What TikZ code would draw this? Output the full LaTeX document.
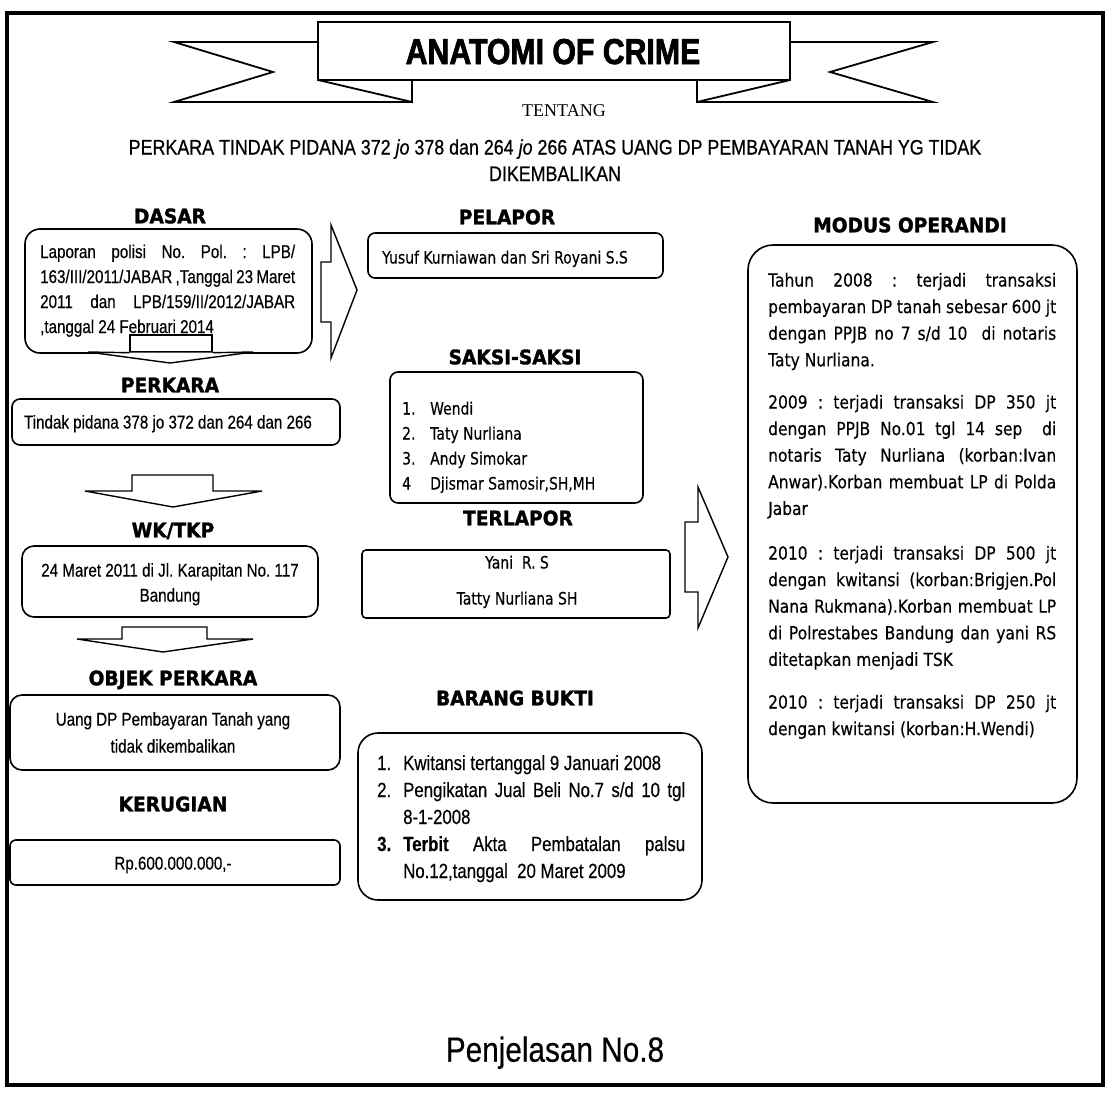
\documentclass[tikz,border=0pt]{standalone}
\usepackage{fontspec}
\setmainfont{Liberation Sans}
\newfontfamily\nar[FakeStretch=0.82,FakeBold=0.4]{Liberation Sans}
\newfontfamily\nart[FakeStretch=0.85,FakeBold=0.6]{Liberation Sans}
\newfontfamily\tah[FakeStretch=0.82,FakeBold=0.3]{DejaVu Sans}
\newfontfamily\tahm[FakeStretch=0.86,FakeBold=0.3]{DejaVu Sans}
\newfontfamily\hd[FakeStretch=0.93,FakeBold=1.6]{DejaVu Sans Bold}
\newfontfamily\ban[FakeStretch=0.84,FakeBold=2]{Liberation Sans Bold}
\newfontfamily\ser{Liberation Serif}
\newfontfamily\pen[FakeStretch=0.85,FakeBold=0.4]{Liberation Sans}
\usetikzlibrary{fit}
\frenchspacing
\newcommand\jl[1]{\hbox to \hsize{#1}}
\newcommand\nl[1]{\hbox{#1}}
\tikzset{
  box/.style={draw, line width=1.6pt, inner sep=0pt, fill=white},
  hdg/.style={inner sep=0pt, anchor=base, font=\hd\fontsize{20}{24}\selectfont},
  txt/.style={inner sep=0pt, anchor=base},
  para/.style={inner sep=0pt, anchor=base west},
  blk/.style={draw, line width=1.4pt, fill=white, line join=miter},
  rib/.style={draw, line width=1.8pt, line join=miter},
}
\begin{document}
\begin{tikzpicture}[x=1pt,y=-1pt]
\useasboundingbox (0,0) rectangle (1112,1093);
\fill[white] (0,0) rectangle (1112,1093);
% outer frame
\draw[line width=3.5pt] (7,13) rectangle (1103,1085);

% banner
\draw[rib] (318,42) -- (174,42) -- (273,72) -- (174,102) -- (412,102);
\draw[rib] (318,80) -- (412,102) -- (412,80);
\draw[rib] (790,42) -- (933,42) -- (830,72) -- (933,102) -- (697,102);
\draw[rib] (790,80) -- (697,102) -- (697,80);
\node[box, line width=1.8pt, fit={(318,22) (790,80)}] (banner) {};
\node[txt, font=\ban\fontsize{36}{40}\selectfont] (anatomi) at (553,64) {ANATOMI OF CRIME};
\node[txt, font=\ser\fontsize{18}{20}\selectfont] (tentang) at (564,116) {TENTANG};
\node[txt, font=\nart\fontsize{21}{25}\selectfont] (title1) at (555,154.5) {PERKARA TINDAK PIDANA 372 \textit{jo} 378 dan 264 \textit{jo} 266 ATAS UANG DP PEMBAYARAN TANAH YG TIDAK};
\node[txt, font=\nart\fontsize{21}{25}\selectfont] (title2) at (555,181) {DIKEMBALIKAN};

% ---------------- left column
\node[hdg] (hdasar) at (170,223.3) {DASAR};
\node[box, rounded corners=15pt, fit={(25,229) (312,353)}] (dasar) {};
\node[para] (dasart) at (40,258) {\parbox[t]{255pt}{\nar\fontsize{18.5}{25}\selectfont
  \jl{Laporan polisi No. Pol. : LPB/}
  \jl{163/III/2011/JABAR ,Tanggal 23 Maret}
  \jl{2011 dan LPB/159/II/2012/JABAR}
  \nl{,tanggal 24 Februari 2014}}};
\node[blk, inner sep=0pt, fit={(130,335) (212,352)}] (a1shaft) {};
\draw[blk] (a1shaft.south west) -- (88,352) -- (170,363) -- (253,352) -- (a1shaft.south east);

\node[hdg] (hperkara) at (170,392.3) {PERKARA};
\node[box, rounded corners=8pt, fit={(12,399) (340,445)}] (perkara) {};
\node[txt, font=\nar\fontsize{18.5}{22}\selectfont] (perkarat) at (168,428.5) {Tindak pidana 378 jo 372 dan 264 dan 266};

\draw[blk] (132,475) -- (213,475) -- (213,491) -- (262,491) -- (173,507) -- (85,491) -- (132,491) -- cycle;

\node[hdg] (hwk) at (173,537.3) {WK/TKP};
\node[box, rounded corners=12pt, fit={(22,546) (318,617)}] (wk) {};
\node[txt, font=\nar\fontsize{18.5}{22}\selectfont] (wkt1) at (170,576.6) {24 Maret 2011 di Jl. Karapitan No. 117};
\node[txt, font=\nar\fontsize{18.5}{22}\selectfont] (wkt2) at (170,601.6) {Bandung};

\draw[blk] (122,627) -- (207,627) -- (207,639) -- (253,639) -- (163,652) -- (77,639) -- (122,639) -- cycle;

\node[hdg] (hobjek) at (173,685.3) {OBJEK PERKARA};
\node[box, rounded corners=12pt, fit={(10,695) (340,770)}] (objek) {};
\node[txt, font=\nar\fontsize{18.5}{22}\selectfont] (objekt1) at (173,725.6) {Uang DP Pembayaran Tanah yang};
\node[txt, font=\nar\fontsize{18.5}{22}\selectfont] (objekt2) at (173,752.6) {tidak dikembalikan};

\node[hdg] (hrugi) at (173,811.3) {KERUGIAN};
\node[box, rounded corners=6pt, fit={(10,840) (340,885)}] (rugi) {};
\node[txt, font=\nar\fontsize{18.5}{22}\selectfont] (rugit) at (173,869.6) {Rp.600.000.000,-};

% ---------------- arrow dasar -> middle
\draw[blk] (321,262) -- (331,262) -- (331,225) -- (357,290) -- (331,358) -- (331,322) -- (321,322) -- cycle;

% ---------------- middle column
\node[hdg] (hpelapor) at (507,224.3) {PELAPOR};
\node[box, rounded corners=7pt, fit={(368,233) (663,278)}] (pelapor) {};
\node[para, font=\tah\fontsize{17}{20}\selectfont] (pelaport) at (382,263.5) {Yusuf Kurniawan dan Sri Royani S.S};

\node[hdg] (hsaksi) at (515,364.3) {SAKSI-SAKSI};
\node[box, rounded corners=8pt, fit={(390,372) (643,503)}] (saksi) {};
\node[para] (saksit) at (402,414.5) {\parbox[t]{230pt}{\tah\fontsize{17}{25}\selectfont
  \nl{\hbox to 28pt{1.\hfil}Wendi}
  \nl{\hbox to 28pt{2.\hfil}Taty Nurliana}
  \nl{\hbox to 28pt{3.\hfil}Andy Simokar}
  \nl{\hbox to 28pt{4\hfil}Djismar Samosir,SH,MH}}};

\node[hdg] (hterlapor) at (518,525.3) {TERLAPOR};
\node[box, rounded corners=4pt, fit={(362,550) (670,618)}] (terlapor) {};
\node[txt, font=\tah\fontsize{17}{20}\selectfont] (terlaport1) at (517,568.5) {Yani\ \ R. S};
\node[txt, font=\tah\fontsize{17}{20}\selectfont] (terlaport2) at (517,604.5) {Tatty Nurliana SH};

\node[hdg] (hbarang) at (515,705.3) {BARANG BUKTI};
\node[box, rounded corners=20pt, fit={(358,733) (702,900)}] (barang) {};
\node[para] (barangt) at (377,770) {\parbox[t]{308pt}{\nar\fontsize{20.5}{27}\selectfont
  \nl{\hbox to 26pt{1.\hfil}Kwitansi tertanggal 9 Januari 2008}
  \jl{\hbox to 26pt{2.\hfil}Pengikatan Jual Beli No.7 s/d 10 tgl}
  \nl{\hskip26pt 8-1-2008}
  \jl{\hbox to 26pt{\bfseries 3.\hfil}\textbf{Terbit} Akta Pembatalan palsu}
  \nl{\hskip26pt No.12,tanggal\ \ 20 Maret 2009}}};

% ---------------- arrow middle -> modus
\draw[blk] (685,522) -- (698,522) -- (698,487) -- (728,557) -- (698,628) -- (698,592) -- (685,592) -- cycle;

% ---------------- right column
\node[hdg] (hmodus) at (910,232.3) {MODUS OPERANDI};
\node[box, rounded corners=25pt, fit={(748,245) (1077,803)}] (modus) {};
\node[para] (modus1) at (768,286.5) {\parbox[t]{288pt}{\tahm\fontsize{18}{26.6}\selectfont
  \jl{Tahun 2008 : terjadi transaksi}
  \jl{pembayaran DP tanah sebesar 600 jt}
  \jl{dengan PPJB no 7 s/d 10\ \ di notaris}
  \nl{Taty Nurliana.}}};
\node[para] (modus2) at (768,408.5) {\parbox[t]{288pt}{\tahm\fontsize{18}{26.6}\selectfont
  \jl{2009 : terjadi transaksi DP 350 jt}
  \jl{dengan PPJB No.01 tgl 14 sep\ \ di}
  \jl{notaris Taty Nurliana (korban:Ivan}
  \jl{Anwar).Korban membuat LP di Polda}
  \nl{Jabar}}};
\node[para] (modus3) at (768,559.5) {\parbox[t]{288pt}{\tahm\fontsize{18}{26.6}\selectfont
  \jl{2010 : terjadi transaksi DP 500 jt}
  \jl{dengan kwitansi (korban:Brigjen.Pol}
  \jl{Nana Rukmana).Korban membuat LP}
  \jl{di Polrestabes Bandung dan yani RS}
  \nl{ditetapkan menjadi TSK}}};
\node[para] (modus4) at (768,708.5) {\parbox[t]{288pt}{\tahm\fontsize{18}{26.6}\selectfont
  \jl{2010 : terjadi transaksi DP 250 jt}
  \nl{dengan kwitansi (korban:H.Wendi)}}};

% footer
\node[txt, font=\pen\fontsize{35}{40}\selectfont] (penjelasan) at (555,1061.7) {Penjelasan No.8};
\end{tikzpicture}
\end{document}
